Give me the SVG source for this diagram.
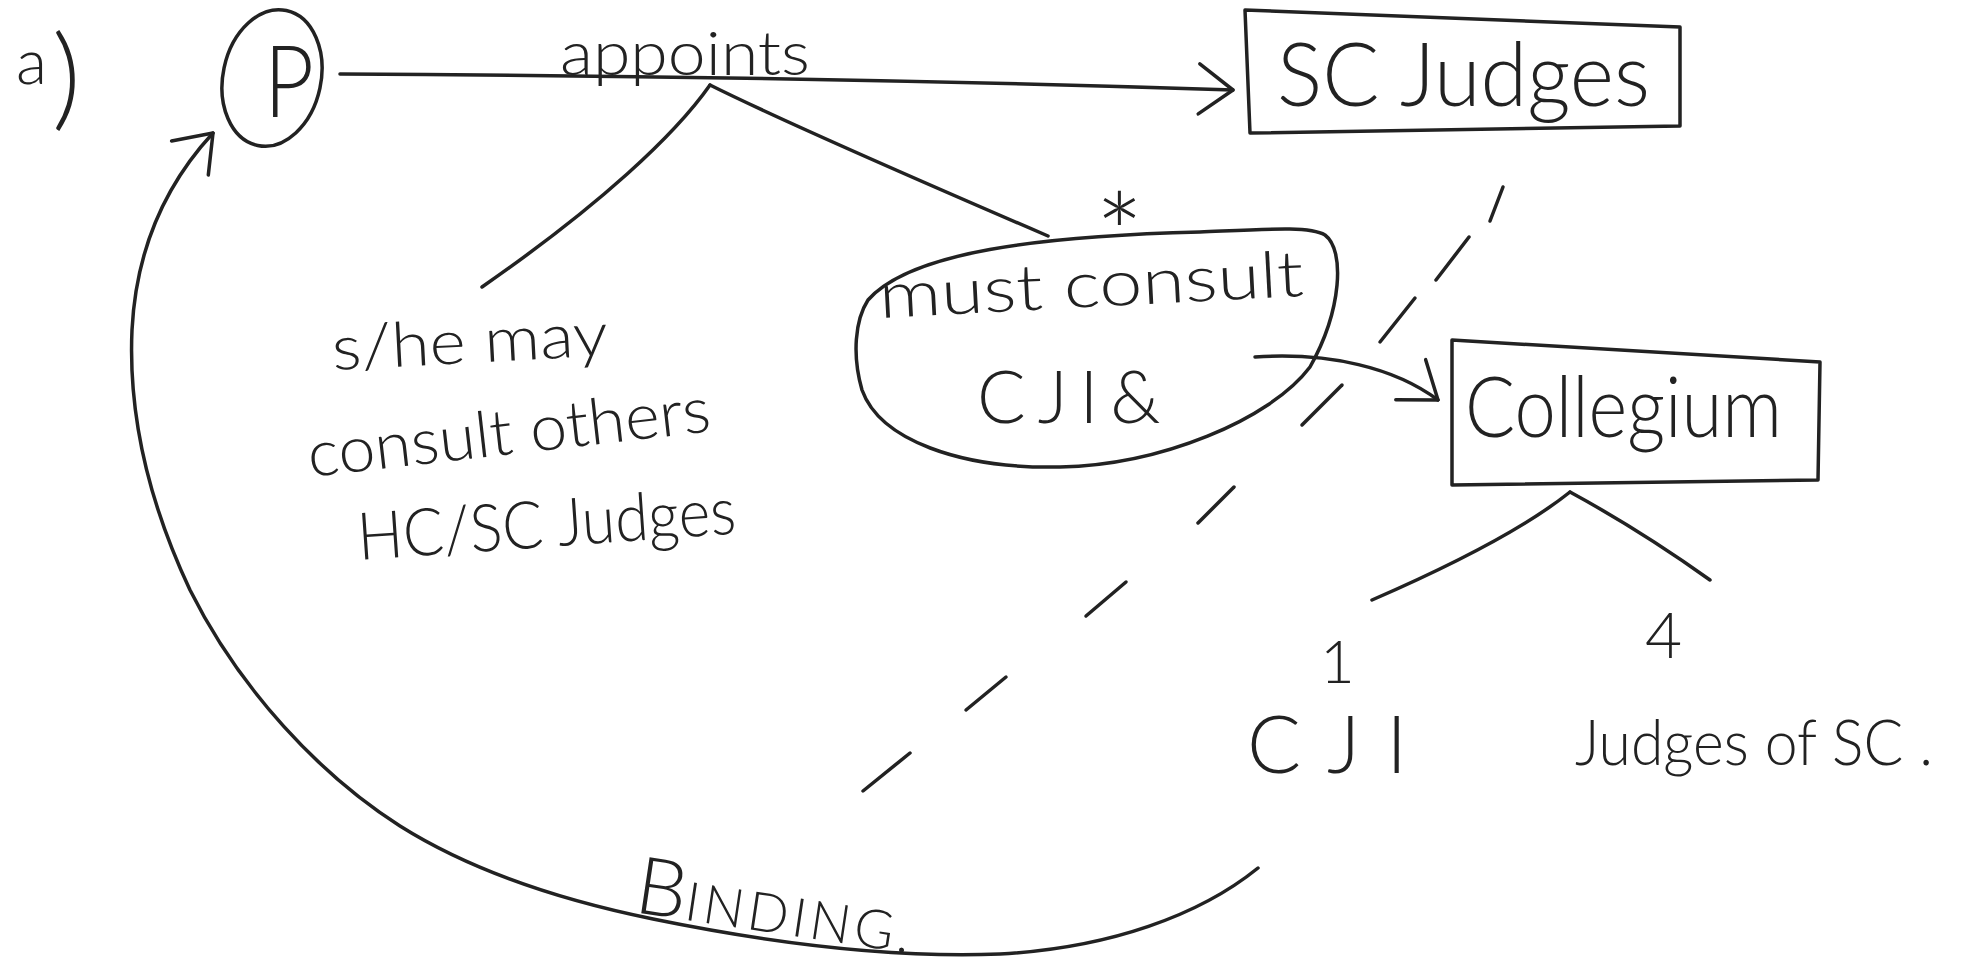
<svg xmlns="http://www.w3.org/2000/svg" width="1984" height="966" viewBox="0 0 1984 966">
<style>
.ink{fill:none;stroke:#222;stroke-width:3.5;stroke-linecap:round;stroke-linejoin:round}
.t{font-family:"Lato","Roboto","Liberation Sans",sans-serif;font-weight:300;fill:#222}
</style>
<defs>
<marker id="chev" viewBox="0 0 40 60" refX="38" refY="30" markerWidth="40" markerHeight="60" markerUnits="userSpaceOnUse" orient="auto">
<path d="M 4 5 L 38 30 L 4 55" fill="none" stroke="#222" stroke-width="3.5" stroke-linecap="round" stroke-linejoin="round"/>
</marker>
</defs>
<rect width="1984" height="966" fill="#fff"/>

<g id="connectors">
<path class="ink" d="M 340 74 Q 800 76 1233 90" marker-end="url(#chev)"/>
<path class="ink" d="M 710 85 C 675 135, 600 205, 482 287"/>
<path class="ink" d="M 710 85 Q 790 125 1048 236"/>
<path class="ink" d="M 1255 357 C 1330 352, 1395 368, 1438 400" marker-end="url(#chev)"/>
<path class="ink" d="M 1570 492 Q 1510 540 1372 600"/>
<path class="ink" d="M 1570 492 Q 1640 530 1710 580"/>
<g id="divider">
<path class="ink" d="M 1503 187 L 1490 221"/>
<path class="ink" d="M 1469 237 L 1436 280"/>
<path class="ink" d="M 1415 298 L 1380 342"/>
<path class="ink" d="M 1342 385 L 1302 425"/>
<path class="ink" d="M 1234 487 L 1198 523"/>
<path class="ink" d="M 1126 582 L 1086 616"/>
<path class="ink" d="M 1006 677 L 966 710"/>
<path class="ink" d="M 910 753 L 863 791"/>
</g>
<path class="ink" d="M 1258 868 C 1200 915, 1110 948, 1000 954 C 900 958, 780 945, 653 919 C 560 900, 470 870, 400 826 C 320 775, 240 690, 190 590 C 150 505, 128 420, 132 330 C 136 250, 165 185, 213 133" marker-end="url(#chev)"/>
</g>

<g id="label-a">
<text class="t"><tspan x="16" y="84" font-size="64">a</tspan><tspan x="52" y="116" font-size="112">)</tspan></text>
</g>

<g id="node-P">
<ellipse class="ink" cx="272" cy="78" rx="49" ry="69" transform="rotate(12 272 78)"/>
<text class="t" x="264" y="117" font-size="100" textLength="50" lengthAdjust="spacingAndGlyphs">P</text>
</g>

<g id="label-appoints">
<text class="t" x="560" y="75" font-size="62" textLength="250" lengthAdjust="spacingAndGlyphs">appoints</text>
</g>

<g id="node-sc-judges">
<path class="ink" d="M 1245 10 L 1680 27 L 1680 126 L 1250 133 Z"/>
<text class="t" x="1277" y="106" font-size="88" textLength="373" lengthAdjust="spacingAndGlyphs">SC Judges</text>
</g>

<g id="note-may-consult">
<text class="t" x="333" y="370" font-size="62" textLength="276" lengthAdjust="spacingAndGlyphs" transform="rotate(-3 333 370)">s/he may</text>
<text class="t" x="310" y="477" font-size="64" textLength="405" lengthAdjust="spacingAndGlyphs" transform="rotate(-6.5 310 477)">consult others</text>
<text class="t" x="359" y="560" font-size="66" textLength="379" lengthAdjust="spacingAndGlyphs" transform="rotate(-4 359 560)">HC/SC Judges</text>
</g>

<g id="mark-star">
<text class="t" x="1095" y="276" font-size="115">*</text>
</g>

<g id="node-must-consult">
<path class="ink" d="M 868 300 C 910 252, 1040 236, 1200 232 C 1270 229, 1310 226, 1325 235 C 1345 250, 1342 310, 1310 367 C 1270 420, 1160 465, 1060 467 C 960 469, 880 440, 862 390 C 852 355, 855 320, 868 300 Z"/>
<text class="t" x="880" y="318" font-size="64" textLength="425" lengthAdjust="spacingAndGlyphs" transform="rotate(-3 880 318)">must consult</text>
<text class="t" x="977" y="423" font-size="72" letter-spacing="12">CJI&amp;</text>
</g>

<g id="node-collegium">
<path class="ink" d="M 1452 340 L 1820 362 L 1818 480 L 1452 485 Z"/>
<text class="t" x="1465" y="437" font-size="84" textLength="317" lengthAdjust="spacingAndGlyphs">Collegium</text>
</g>

<g id="node-cji">
<text class="t" x="1320" y="683" font-size="60">1</text>
<text class="t" x="1247" y="773" font-size="80" letter-spacing="26">CJI</text>
</g>

<g id="node-judges-of-sc">
<text class="t" x="1645" y="658" font-size="64">4</text>
<text class="t" x="1575" y="765" font-size="64" textLength="358" lengthAdjust="spacingAndGlyphs">Judges of SC .</text>
</g>

<g id="label-binding">
<text class="t" x="633" y="912" transform="rotate(8.5 633 912)"><tspan font-size="80">B</tspan><tspan font-size="54" letter-spacing="4">INDING.</tspan></text>
</g>
</svg>
